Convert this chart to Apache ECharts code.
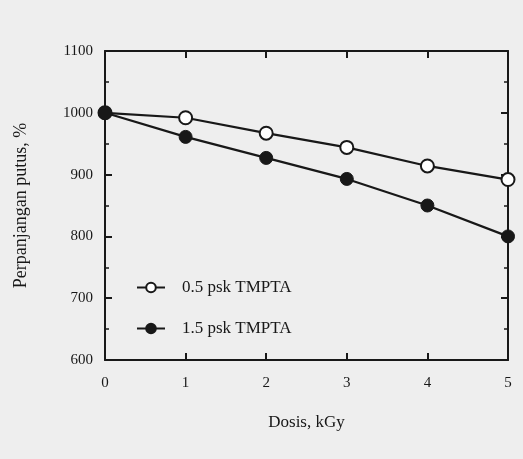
<!DOCTYPE html>
<html>
<head>
<meta charset="utf-8">
<script src="https://cdn.jsdelivr.net/npm/echarts@6/dist/echarts.min.js"></script>
<style>html,body{margin:0;padding:0;background:#eeeeee;}#c{width:523px;height:459px;}</style>
</head>
<body>
<div id="c"></div>
<script>
const doses = [0, 1, 2, 3, 4, 5];
const seriesNames = ['0.5 psk TMPTA', '1.5 psk TMPTA'];
const open05 = [1000, 992, 967, 944, 914, 892];
const filled15 = [1000, 961, 927, 893, 850, 800];
const yTicks = [600, 700, 800, 900, 1000, 1100];

const font = 'Liberation Serif, DejaVu Serif, serif';
const ink = '#181818';
const chart = echarts.init(document.getElementById('c'));
function common(minor) {
  const o = {
    axisLine: {show: true, onZero: false, lineStyle: {color: ink, width: 2}},
    axisTick: {show: true, inside: true, length: 7, lineStyle: {color: ink, width: 2}},
    splitLine: {show: false}
  };
  if (minor) o.minorTick = {show: true, splitNumber: 2, length: 4, lineStyle: {color: ink, width: 1.5}};
  return o;
}
chart.setOption({
  backgroundColor: '#eeeeee',
  animation: false,
  grid: {left: 105, right: 15, top: 51, bottom: 99},
  legend: {
    orient: 'vertical', left: 131, top: 274, itemWidth: 28, itemHeight: 12, itemGap: 24,
    textStyle: {fontFamily: font, fontSize: 17, color: ink, padding: [0, 0, 0, 12]},
    data: seriesNames
  },
  xAxis: [
    Object.assign({type: 'value', min: 0, max: 5, interval: 1, position: 'bottom',
      name: 'Dosis, kGy', nameLocation: 'middle', nameGap: 54,
      nameTextStyle: {fontFamily: font, fontSize: 17, color: ink},
      axisLabel: {fontFamily: font, fontSize: 15, color: ink, margin: 16,
        formatter: v => String(v)}}, common(false)),
    Object.assign({type: 'value', min: 0, max: 5, interval: 1, position: 'top',
      axisLabel: {show: false}}, common(false))
  ],
  yAxis: [
    Object.assign({type: 'value', min: 600, max: 1100, interval: 100, position: 'left',
      name: 'Perpanjangan putus, %', nameLocation: 'middle', nameGap: 75,
      nameTextStyle: {fontFamily: font, fontSize: 18, color: ink},
      axisLabel: {fontFamily: font, fontSize: 15, color: ink, margin: 12,
        formatter: v => yTicks.includes(v) ? String(v) : ''}}, common(true)),
    Object.assign({type: 'value', min: 600, max: 1100, interval: 100, position: 'right',
      axisLabel: {show: false}}, common(true))
  ],
  series: [
    {
      name: seriesNames[0], type: 'line',
      data: doses.map((d, i) => [d, open05[i]]),
      symbol: 'circle', symbolSize: 13,
      lineStyle: {color: ink, width: 2.2},
      itemStyle: {color: '#ffffff', borderColor: ink, borderWidth: 2},
      z: 3
    },
    {
      name: seriesNames[1], type: 'line',
      data: doses.map((d, i) => [d, filled15[i]]),
      symbol: 'circle', symbolSize: 13,
      lineStyle: {color: ink, width: 2.2},
      itemStyle: {color: ink, borderColor: ink, borderWidth: 1},
      z: 4
    }
  ]
});
</script>
</body>
</html>
